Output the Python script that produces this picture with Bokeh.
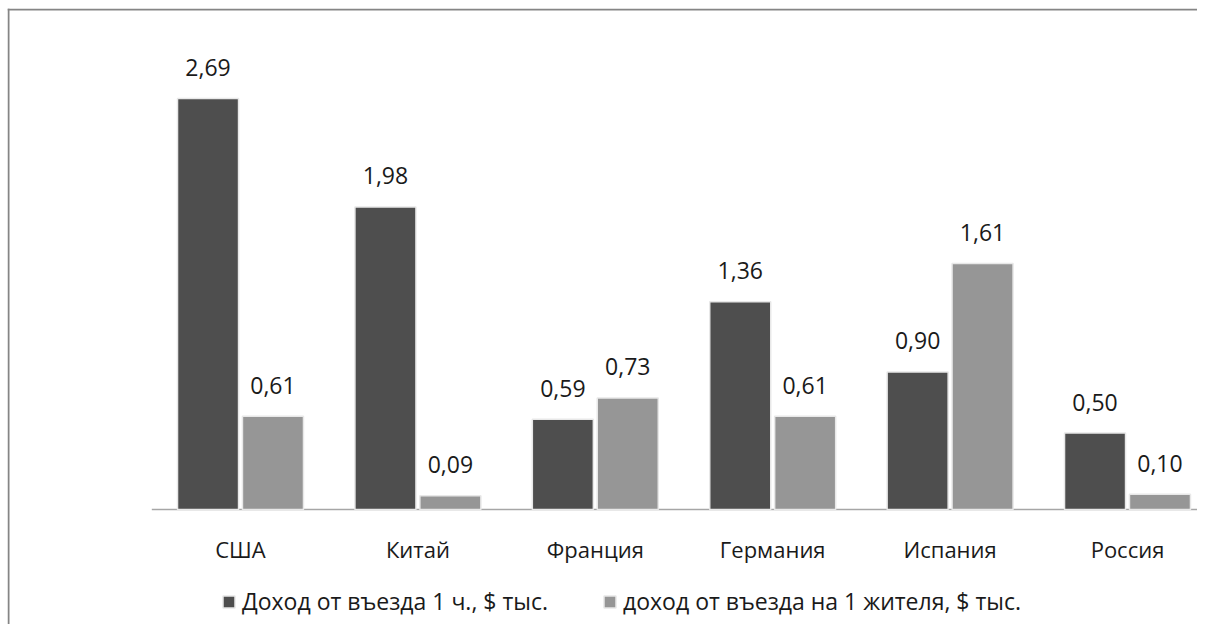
from bokeh.plotting import figure
from bokeh.models import ColumnDataSource, Range1d, Legend, LegendItem, Span
from bokeh.core.properties import value
from bokeh.embed import file_html
from bokeh.resources import INLINE

categories = ["США", "Китай", "Франция", "Германия", "Испания", "Россия"]
income_per_entry = [2.69, 1.98, 0.59, 1.36, 0.90, 0.50]
income_per_resident = [0.61, 0.09, 0.73, 0.61, 1.61, 0.10]
series_names = ["Доход от въезда 1 ч., $ тыс.", "доход от въезда на 1 жителя, $ тыс."]

DARK = "#4e4e4e"
LIGHT = "#969696"
FONT = "Open Sans"
TEXT = "#1a1a1a"

W, H = 1197, 624
LEFT, TOP = 7, 8
PX_X = 177.4          # pixels per category
PX_Y = 152.8          # pixels per unit of value
BASE = 509            # baseline (pixels from top)
X0 = 240              # centre of first category (pixels from left)

centers = [i + 0.5 for i in range(len(categories))]
bar_w = 0.344
off = 0.183

x_start = 0.5 - (X0 - LEFT) / PX_X
x_end = x_start + (W - LEFT) / PX_X
y_end = (BASE - TOP) / PX_Y
y_start = -(H - BASE) / PX_Y


def fmt(v):
    return f"{v:.2f}".replace(".", ",")


src1 = ColumnDataSource(dict(x=[c - off for c in centers], top=income_per_entry,
                             label=[fmt(v) for v in income_per_entry]))
src2 = ColumnDataSource(dict(x=[c + off for c in centers], top=income_per_resident,
                             label=[fmt(v) for v in income_per_resident]))
src_cat = ColumnDataSource(dict(x=centers, y=[0] * len(centers), label=categories))

p = figure(width=W, height=H, output_backend="svg", toolbar_location=None,
           x_range=Range1d(x_start, x_end), y_range=Range1d(y_start, y_end),
           x_axis_location=None, y_axis_location=None,
           min_border_left=LEFT, min_border_right=0, min_border_top=TOP, min_border_bottom=0)
p.outline_line_color = None
p.grid.visible = False
p.background_fill_color = "white"
p.border_fill_color = "white"

# chart border (top and left edges)
p.add_layout(Span(location=x_start + 1.0 / PX_X, dimension="height",
                  line_color="#858585", line_width=2))
p.add_layout(Span(location=y_end - 1.0 / PX_Y, dimension="width",
                  line_color="#858585", line_width=2))

# category baseline
p.segment(x0=[0], y0=[0], x1=[x_end], y1=[0], line_color="#a6a6a6", line_width=1.5)

r1 = p.vbar(x="x", top="top", width=bar_w, bottom=0, source=src1,
            fill_color=DARK, line_color="#e8e8e8", line_width=1.5)
r2 = p.vbar(x="x", top="top", width=bar_w, bottom=0, source=src2,
            fill_color=LIGHT, line_color="#e8e8e8", line_width=1.5)

for s in (src1, src2):
    p.text(x="x", y="top", text="label", source=s, text_align="center",
           text_baseline="middle", y_offset=-31, text_font=value(FONT),
           text_font_size="23px", text_color=TEXT)

# category labels
p.text(x="x", y="y", text="label", source=src_cat, text_align="center",
       text_baseline="middle", y_offset=39, text_font=value(FONT),
       text_font_size="22px", text_color=TEXT)

legend = Legend(items=[LegendItem(label=series_names[0], renderers=[r1]),
                       LegendItem(label=series_names[1], renderers=[r2])],
                orientation="horizontal", location=(214, 7),
                glyph_width=15, glyph_height=15, label_standoff=6, spacing=54,
                padding=0, margin=0, border_line_color=None, background_fill_alpha=0,
                label_text_font=FONT, label_text_font_size="23px", label_text_color=TEXT)
p.add_layout(legend, "center")

open("out.html", "w").write(file_html(p, INLINE))
